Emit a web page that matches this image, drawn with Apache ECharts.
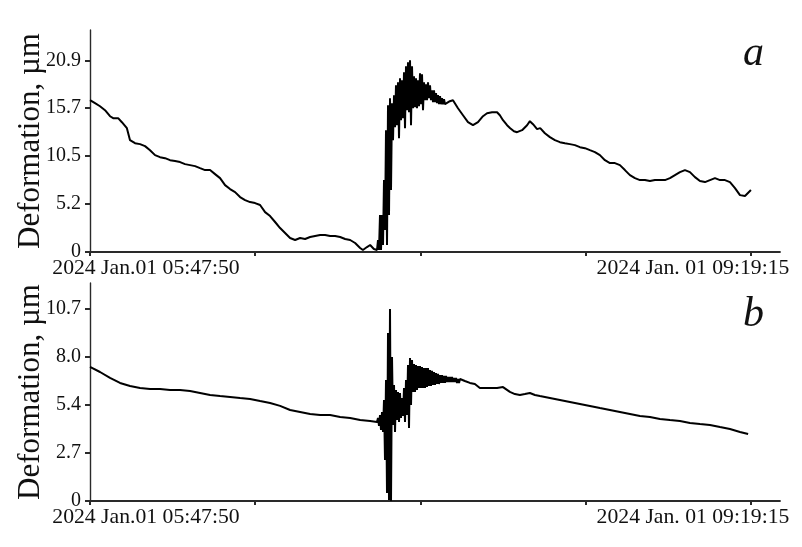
<!DOCTYPE html>
<html><head><meta charset="utf-8">
<script src="https://cdn.jsdelivr.net/npm/echarts@6/dist/echarts.min.js"></script>
<style>html,body{margin:0;padding:0;background:#fff}#c{width:802px;height:547px}</style>
</head><body><div id="c"></div>
<script>
// ---- axis ticks / labels ----
const xTickMinutes = [0, 52.855, 105.71, 158.565, 211.42];
const xLabelMinutes = [0, 211.42];
const xLabelTexts = ['2024 Jan.01 05:47:50', '2024 Jan. 01 09:19:15'];
const xMaxMinutes = 220.7;
const yTicksA = [0, 5.225, 10.45, 15.675, 20.9];
const yLabelsA = ['0', '5.2', '10.5', '15.7', '20.9'];
const yTicksB = [0, 2.675, 5.35, 8.025, 10.7];
const yLabelsB = ['0', '2.7', '5.4', '8.0', '10.7'];

// ---- chart a: minutes after 05:47:50, deformation in µm ----
const timeA1 = [0,1.6,3.2,4.8,6.4,7.4,9.0,10.2,11.8,12.8,14.4,16.0,17.6,19.2,20.8,22.4,24.0,25.6,27.2,28.8,30.4,32.0,33.6,35.2,36.8,38.4,40.0,41.6,43.2,44.8,46.4,48.0,49.6,51.2,52.8,54.4,56.0,57.6,59.2,60.8,62.4,64.0,65.6,67.2,68.8,70.4,72.0,73.6,75.2,76.8,78.4,80.0,81.6,83.2,84.8,86.4,87.3,88.6,89.6,90.8,91.8];
const defA1 = [16.55,16.22,15.89,15.46,14.80,14.59,14.59,14.15,13.50,12.19,11.86,11.76,11.54,11.10,10.56,10.34,10.23,10.01,9.91,9.80,9.58,9.47,9.36,9.14,8.93,8.93,8.49,8.05,7.29,6.86,6.53,5.99,5.66,5.44,5.33,5.12,4.35,3.92,3.27,2.61,2.07,1.52,1.31,1.52,1.42,1.63,1.74,1.85,1.85,1.74,1.74,1.63,1.42,1.31,0.98,0.44,0.22,0.54,0.76,0.33,0.22];
const burstStartA = 92.12, burstStepA = 0.31986;
const burstA = [1.31,0.22,4.03,0.22,4.03,0.76,7.84,2.39,13.28,0.76,16.00,4.03,16.76,6.75,16.22,12.19,17.09,13.61,18.18,13.82,18.50,12.41,18.94,14.37,18.72,14.59,19.59,13.50,20.25,15.46,20.68,15.24,20.90,13.82,20.25,15.67,19.16,15.78,18.94,15.67,18.72,15.89,19.48,16.11,19.38,15.46,18.50,16.55,18.29,16.55,18.50,16.76,18.18,16.55,17.63,16.33,17.63,16.33,17.31,16.22,17.09,16.11,16.98,16.11,16.76,16.11,16.65,16.11];
const timeA2 = [115.1,116.1,117.7,119.3,120.9,122.5,124.1,125.7,127.0,128.6,130.2,131.1,132.1,133.4,134.4,135.6,136.6,138.2,139.8,140.7,141.7,143.0,144.0,145.5,147.1,148.7,150.3,151.9,153.5,155.1,156.7,158.3,159.9,161.5,163.1,164.7,166.3,167.9,169.5,171.1,172.7,174.3,175.9,177.5,179.1,180.7,182.3,183.9,185.5,187.1,188.7,190.3,191.9,193.5,195.1,196.7,198.3,199.9,201.5,203.1,204.7,206.3,207.9,209.5,211.4];
const defA2 = [16.44,16.55,15.67,14.91,14.15,13.82,14.15,14.80,15.13,15.24,15.24,14.91,14.37,13.82,13.50,13.17,13.06,13.28,13.82,14.26,13.93,13.39,13.50,12.95,12.52,12.19,11.97,11.86,11.76,11.65,11.43,11.32,11.10,10.89,10.56,10.01,9.69,9.69,9.47,8.93,8.38,8.05,7.84,7.84,7.73,7.84,7.84,7.84,8.05,8.38,8.71,8.93,8.71,8.16,7.73,7.62,7.84,8.05,7.84,7.84,7.62,6.97,6.20,6.10,6.75];

// ---- chart b ----
const timeB1 = [0,3.2,6.4,9.6,12.8,16.0,19.2,22.4,25.6,28.8,32.0,35.2,38.4,41.6,44.8,48.0,51.2,54.4,57.6,60.8,64.0,67.2,70.4,73.6,76.8,80.0,83.2,86.4,89.6,91.8];
const defB1 = [7.47,7.19,6.86,6.58,6.41,6.30,6.24,6.24,6.19,6.19,6.13,6.02,5.91,5.85,5.80,5.74,5.69,5.57,5.46,5.30,5.07,4.96,4.85,4.79,4.79,4.68,4.63,4.51,4.46,4.40];
const burstStartB = 92.12, burstStepB = 0.31986;
const burstB = [4.63,4.18,4.79,3.96,4.96,3.85,5.63,2.29,6.74,0.45,9.36,0.06,10.70,0.00,8.03,4.24,6.47,3.85,6.19,4.51,6.08,4.40,6.02,4.63,5.74,4.74,6.30,4.40,6.74,4.79,7.58,4.07,7.97,5.35,7.86,6.08,7.64,6.08,7.58,6.19,7.52,6.30,7.52,6.30,7.47,6.30,7.41,6.30,7.41,6.35,7.41,6.41,7.30,6.41,7.25,6.47,7.19,6.47,7.13,6.52,7.08,6.52,7.02,6.58,7.02,6.58,6.97,6.58,6.97,6.63,6.91,6.63,6.91,6.63,6.91,6.63,6.86,6.63,6.86,6.58,6.80,6.58,6.80];
const timeB2 = [119.9,121.5,123.1,124.7,126.3,127.9,130.2,132.1,134.3,135.9,137.5,139.1,140.7,142.3,143.9,147.1,150.3,153.5,156.7,159.9,163.1,166.3,169.5,172.7,175.9,179.1,182.3,185.5,188.7,191.9,195.1,198.3,201.5,204.7,207.9,210.5];
const defB2 = [6.69,6.58,6.52,6.30,6.30,6.30,6.30,6.35,6.08,5.96,5.91,5.96,6.02,5.91,5.85,5.74,5.63,5.52,5.41,5.30,5.18,5.07,4.96,4.85,4.74,4.68,4.57,4.51,4.46,4.35,4.29,4.24,4.12,4.01,3.85,3.73];

function build(t1, v1, bStart, bStep, bVals, t2, v2) {
  const d = [];
  for (let i = 0; i < Math.min(t1.length, v1.length); i++) d.push([t1[i], v1[i]]);
  for (let i = 0; i < bVals.length; i++) d.push([bStart + i * bStep, bVals[i]]);
  for (let i = 0; i < Math.min(t2.length, v2.length); i++) d.push([t2[i], v2[i]]);
  return d;
}

const FONT = "'Liberation Serif','Times New Roman',serif";
const AX = '#2a2a2a';

function xAxisOpt(gridIndex) {
  return {
    type: 'value', gridIndex, min: 0, max: xMaxMinutes,
    axisLine: { show: true, onZero: false, lineStyle: { color: AX, width: 1.8 } },
    axisTick: { show: true, length: 4, customValues: xTickMinutes, lineStyle: { color: AX, width: 2 } },
    axisLabel: {
      customValues: xLabelMinutes, margin: 5, color: '#111',
      formatter: v => (Math.abs(v) < 1e-6 ? '{first|' + xLabelTexts[0] + '}' : '{last|' + xLabelTexts[1] + '}'),
      rich: {
        first: { fontFamily: FONT, fontSize: 21.7, color: '#111', padding: [0, 0, 0, 112] },
        last: { fontFamily: FONT, fontSize: 21.7, color: '#111', padding: [0, 116, 0, 0] }
      }
    },
    splitLine: { show: false }
  };
}
function yAxisOpt(gridIndex, max, ticks, labels) {
  return {
    type: 'value', gridIndex, min: 0, max,
    name: 'Deformation, µm', nameLocation: 'middle', nameGap: 44, nameRotate: 90,
    nameMoveOverlap: false,
    nameTextStyle: { fontFamily: FONT, fontSize: 31, color: '#111' },
    axisLine: { show: true, lineStyle: { color: AX, width: 1.4 } },
    axisTick: { show: true, length: 5, customValues: ticks, lineStyle: { color: AX, width: 2 } },
    axisLabel: {
      customValues: ticks, margin: 9, fontFamily: FONT, fontSize: 20, color: '#111',
      formatter: v => { const i = ticks.findIndex(t => Math.abs(t - v) < 1e-6); return i >= 0 ? labels[i] : ''; }
    },
    splitLine: { show: false }
  };
}

const chart = echarts.init(document.getElementById('c'));
chart.setOption({
  animation: false,
  backgroundColor: '#fff',
  grid: [
    { left: 90, right: 22, top: 30, height: 222, outerBoundsMode: 'none', containLabel: false },
    { left: 90, right: 22, top: 283, height: 218, outerBoundsMode: 'none', containLabel: false }
  ],
  xAxis: [xAxisOpt(0), xAxisOpt(1)],
  yAxis: [yAxisOpt(0, 24.2, yTicksA, yLabelsA), yAxisOpt(1, 12.15, yTicksB, yLabelsB)],
  series: [
    { type: 'line', xAxisIndex: 0, yAxisIndex: 0, showSymbol: false, symbol: 'none',
      lineStyle: { color: '#000', width: 2 }, data: build(timeA1, defA1, burstStartA, burstStepA, burstA, timeA2, defA2) },
    { type: 'line', xAxisIndex: 1, yAxisIndex: 1, showSymbol: false, symbol: 'none',
      lineStyle: { color: '#000', width: 2 }, data: build(timeB1, defB1, burstStartB, burstStepB, burstB, timeB2, defB2) }
  ],
  graphic: [
    { type: 'text', left: 743, top: 33, style: { text: 'a', font: 'italic 42px ' + FONT, fill: '#111' } },
    { type: 'text', left: 743, top: 294, style: { text: 'b', font: 'italic 42px ' + FONT, fill: '#111' } }
  ]
});
</script>
</body></html>
